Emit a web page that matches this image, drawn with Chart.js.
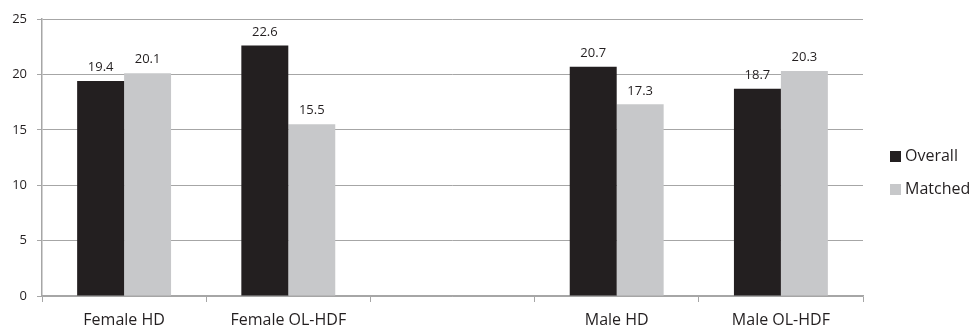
<!DOCTYPE html>
<html>
<head>
<meta charset="utf-8">
<script src="https://cdn.jsdelivr.net/npm/chart.js@4"></script>
<style>
	html, body { margin: 0; padding: 0; background: #fff; }
	#wrap { width: 975px; height: 330px; position: relative; }
</style>
</head>
<body>
<div id="wrap"><canvas id="chart"></canvas></div>
<script>
	// Chart data
	const categories = ['Female HD', 'Female OL-HDF', '', 'Male HD', 'Male OL-HDF'];
	const overallValues = [19.4, 22.6, null, 20.7, 18.7];
	const matchedValues = [20.1, 15.5, null, 17.3, 20.3];
	const seriesNames = ['Overall', 'Matched'];

	const darkColor = '#231f20';
	const lightColor = '#c7c8ca';
	const gridColor = '#a6a6a6';
	const fontFamily = '"Open Sans", sans-serif';

	// Value labels above each bar
	const valueLabels = {
		id: 'valueLabels',
		afterDatasetsDraw(chart) {
			const ctx = chart.ctx;
			ctx.save();
			ctx.font = '13px ' + fontFamily;
			ctx.fillStyle = '#231f20';
			ctx.textAlign = 'center';
			ctx.textBaseline = 'bottom';
			chart.data.datasets.forEach((ds, i) => {
				chart.getDatasetMeta(i).data.forEach((bar, j) => {
					const v = ds.data[j];
					if (v === null) return;
					ctx.fillText(v.toFixed(1), bar.x, bar.y - 7);
				});
			});
			ctx.restore();
		}
	};

	// Legend on the right side
	const sideLegend = {
		id: 'sideLegend',
		afterDraw(chart) {
			const ctx = chart.ctx;
			ctx.save();
			ctx.font = '16px ' + fontFamily;
			ctx.textBaseline = 'middle';
			const colors = [darkColor, lightColor];
			seriesNames.forEach((name, i) => {
				const y = 156 + i * 33;
				ctx.fillStyle = colors[i];
				ctx.fillRect(890, y - 5, 11, 11);
				ctx.fillStyle = '#231f20';
				ctx.fillText(name, 905, y);
			});
			ctx.restore();
		}
	};

	const config = {
		type: 'bar',
		data: {
			labels: categories,
			datasets: [{
				label: seriesNames[0],
				data: overallValues,
				backgroundColor: darkColor,
				categoryPercentage: 0.572,
				barPercentage: 1
			}, {
				label: seriesNames[1],
				data: matchedValues,
				backgroundColor: lightColor,
				categoryPercentage: 0.572,
				barPercentage: 1
			}]
		},
		options: {
			responsive: true,
			maintainAspectRatio: false,
			animation: false,
			layout: {
				padding: { top: 19, right: 112, left: 0, bottom: 0 }
			},
			plugins: {
				legend: { display: false },
				tooltip: { enabled: false },
				title: { display: false }
			},
			scales: {
				y: {
					min: 0,
					max: 25,
					ticks: {
						stepSize: 5,
						padding: 10,
						color: '#231f20',
						font: { family: fontFamily, size: 13 }
					},
					grid: {
						color: gridColor,
						tickLength: 5,
						lineWidth: 1
					},
					border: { color: gridColor, width: 1.5 },
					afterFit(axis) { axis.width = 42; }
				},
				x: {
					ticks: {
						padding: 9,
						color: '#231f20',
						font: { family: fontFamily, size: 16 }
					},
					grid: {
						offset: true,
						drawOnChartArea: false,
						tickLength: 6,
						color: gridColor
					},
					border: { color: gridColor, width: 1.5 },
					afterFit(axis) { axis.height = 34; }
				}
			}
		},
		plugins: [valueLabels, sideLegend]
	};

	const myChart = new Chart(document.getElementById('chart'), config);
</script>
</body>
</html>
